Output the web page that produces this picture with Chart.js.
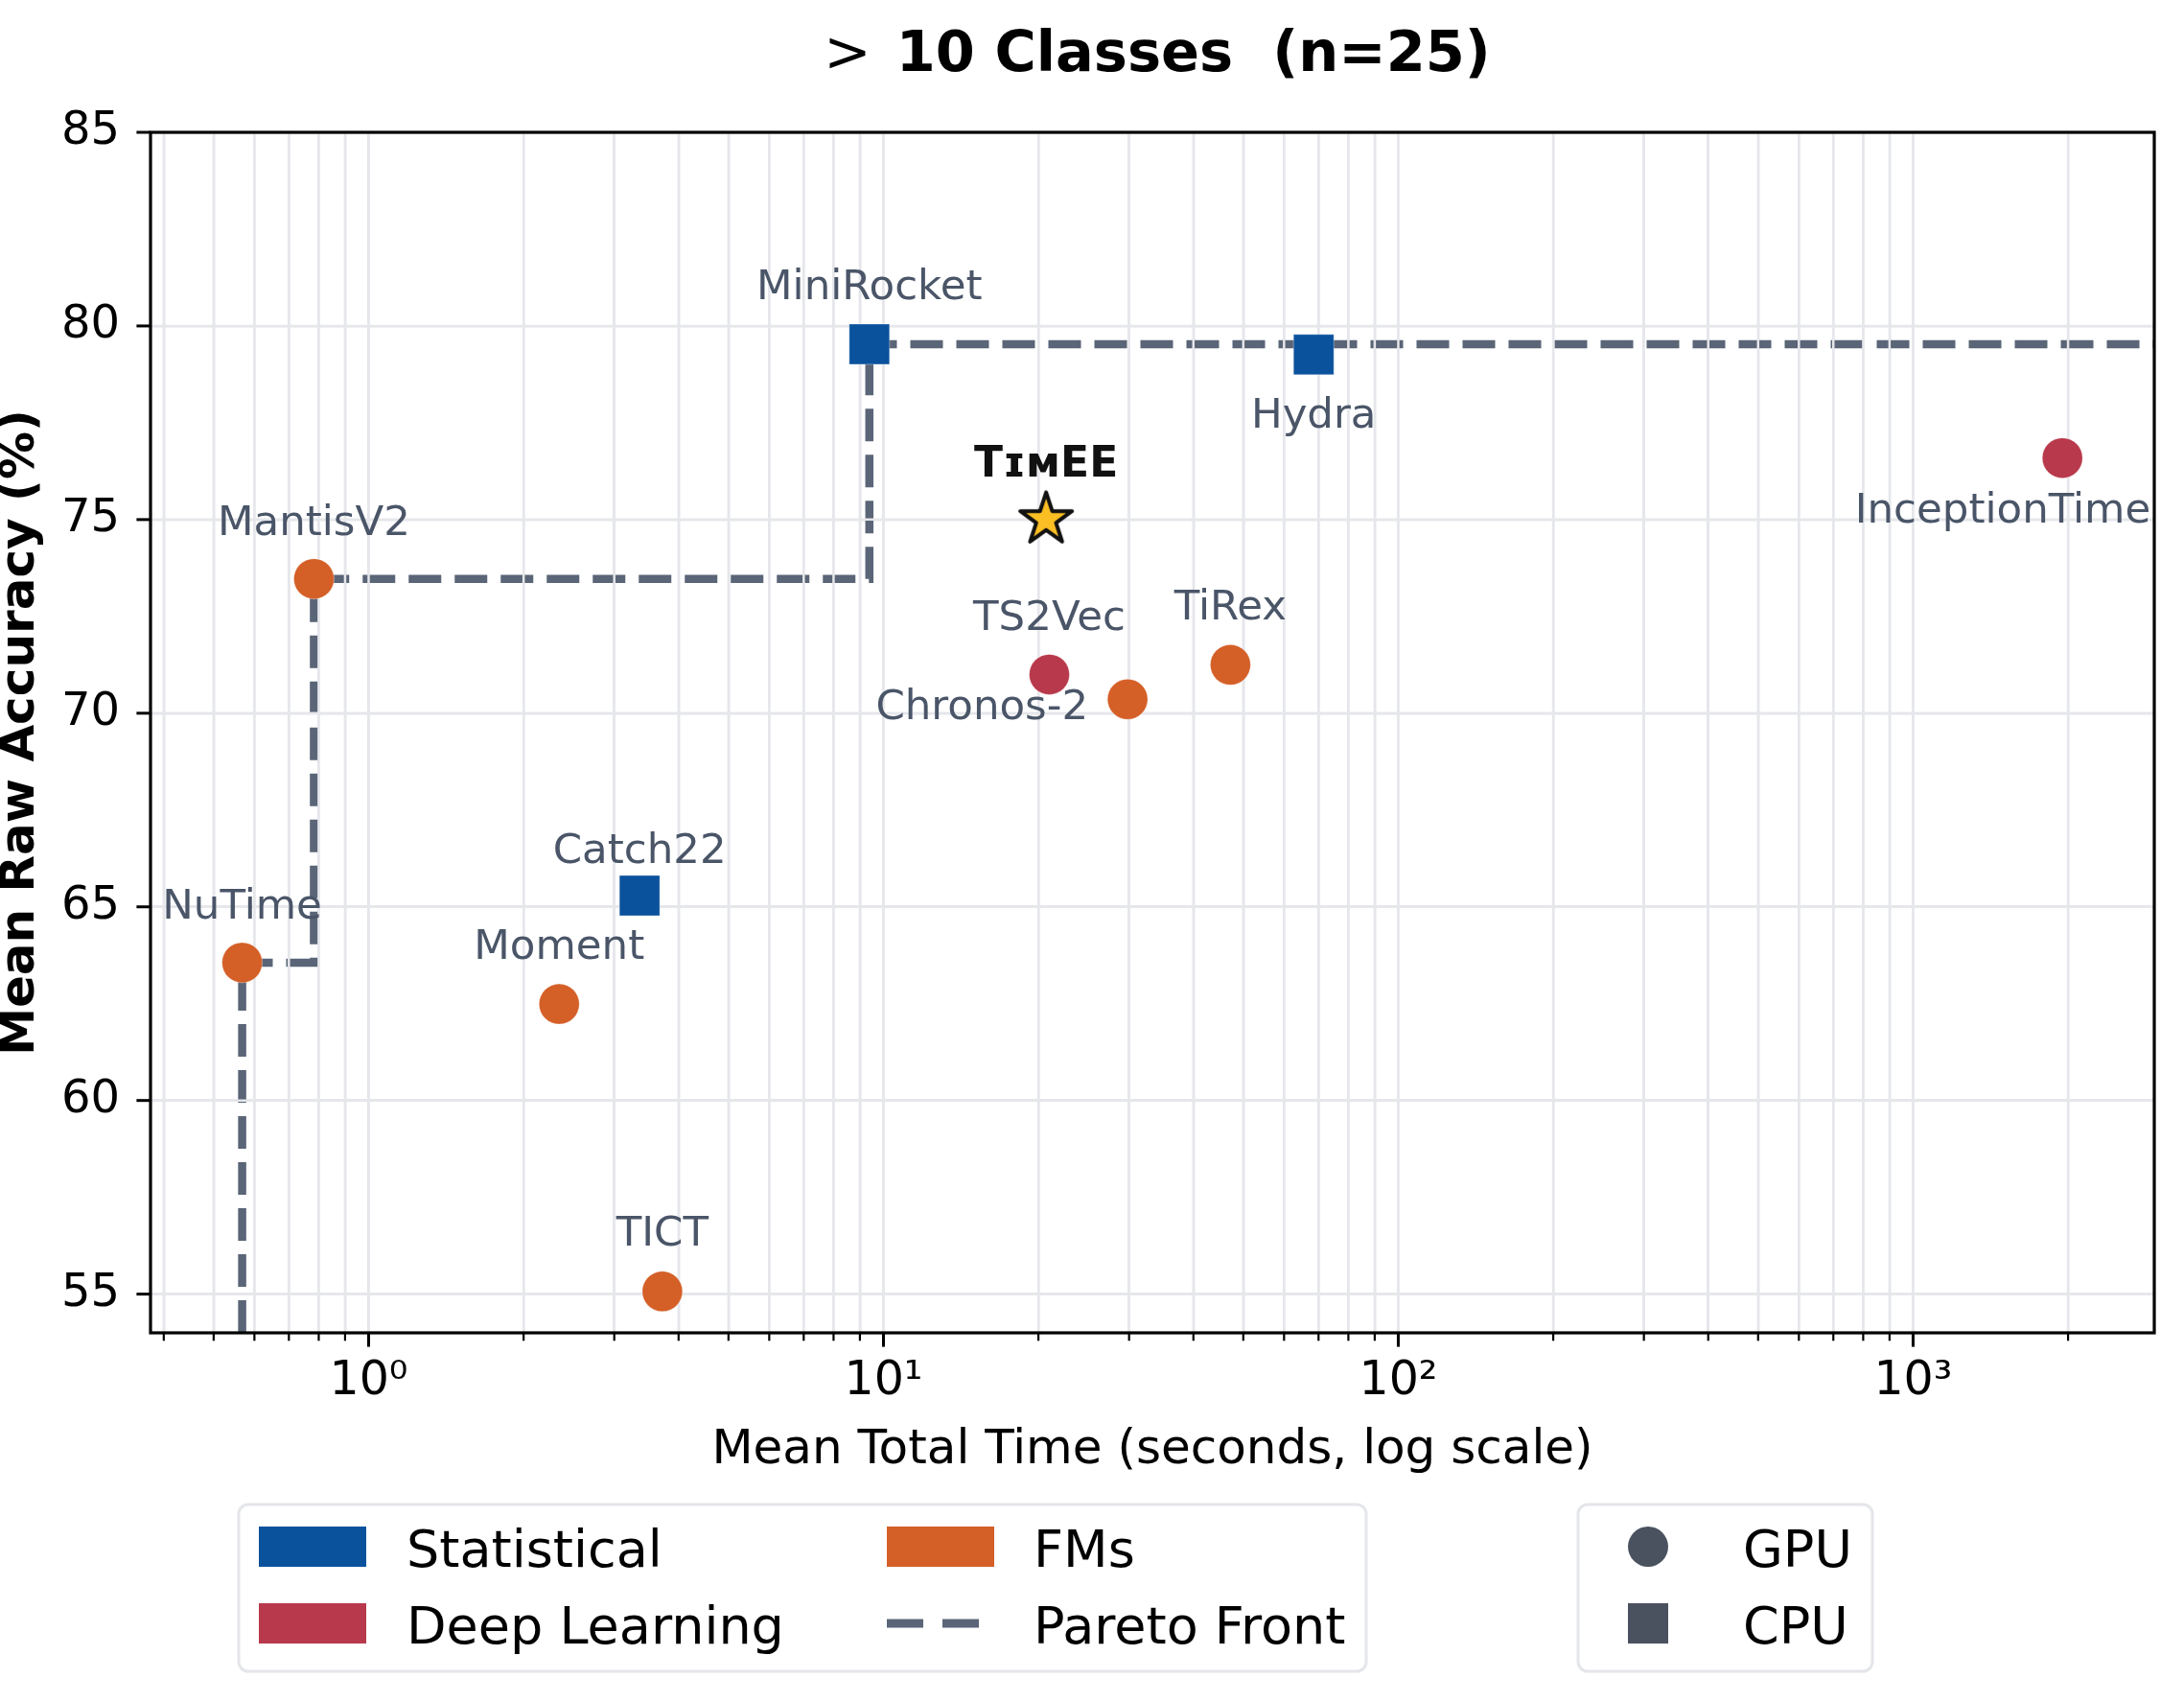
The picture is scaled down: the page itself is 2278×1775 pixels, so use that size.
<!DOCTYPE html>
<html>
<head>
<meta charset="utf-8">
<title>&gt; 10 Classes (n=25)</title>
<script src="https://cdn.jsdelivr.net/npm/chart.js@4.4.0/dist/chart.umd.min.js"></script>
<style>
  html, body { margin: 0; padding: 0; background: #fff; }
  canvas { display: block; }
</style>
</head>
<body>
<canvas id="chart" width="2278" height="1775"></canvas>
<script>
// data
const methods  = ['MiniRocket', 'Hydra', 'Catch22', 'InceptionTime', 'TS2Vec', 'MantisV2', 'NuTime', 'Moment', 'TICT', 'Chronos-2', 'TiRex'];
const families = ['Statistical', 'Statistical', 'Statistical', 'Deep Learning', 'Deep Learning', 'FMs', 'FMs', 'FMs', 'FMs', 'FMs', 'FMs'];
const devices  = ['CPU', 'CPU', 'CPU', 'GPU', 'GPU', 'GPU', 'GPU', 'GPU', 'GPU', 'GPU', 'GPU'];
const meanTime = [9.39, 68.5, 3.36, 1950, 21.0, 0.783, 0.568, 2.345, 3.72, 29.8, 47.2];
const meanAcc  = [79.53, 79.26, 65.29, 76.59, 71.0, 73.47, 63.56, 62.49, 55.07, 70.36, 71.25];

const oursName = 'T\u026A\u1D0DEE';
const oursTime = [20.7];
const oursAcc  = [75.0];

const familyNames = ['Statistical', 'Deep Learning', 'FMs'];
const deviceNames = ['GPU', 'CPU'];

const xMajorTicks = [1, 10, 100, 1000];
const xTickLabels = ['10\u2070', '10\u00B9', '10\u00B2', '10\u00B3'];
const yTicks = [55, 60, 65, 70, 75, 80, 85];
const xRange = [0.377, 2941];
const yRange = [54, 85];

// styling
const FONT = "'DejaVu Sans', sans-serif";
const familyColors = { 'Statistical': '#0b529d', 'Deep Learning': '#b8394b', 'FMs': '#d45f27' };
const paretoColor = '#5a6577';
const markerGray = '#4a5260';
const labelColor = '#4a5568';
const gridColor = '#e6e7eb';

// label offsets relative to the marker: [dx, baseline dy, align]
const labelOffsets = {
  'MiniRocket': [0, -47, 'center'],
  'Hydra': [0, 76, 'center'],
  'Catch22': [0, -34, 'center'],
  'InceptionTime': [92, 67, 'right'],
  'TS2Vec': [0, -46, 'center'],
  'MantisV2': [0, -46, 'center'],
  'NuTime': [0, -46, 'center'],
  'Moment': [0, -47, 'center'],
  'TICT': [0, -48, 'center'],
  'Chronos-2': [-41, 21, 'right'],
  'TiRex': [0, -47, 'center']
};

// minor ticks for the log axis
const xAllTicks = [];
[0.1, 1, 10, 100, 1000].forEach(d => {
  for (let k = 1; k <= 9; k++) {
    const v = +(d * k).toPrecision(3);
    if (v >= xRange[0] && v <= xRange[1]) xAllTicks.push(v);
  }
});

// pareto front: fastest-first, keep strictly better accuracy
const order = meanTime.map((t, i) => i).sort((a, b) => meanTime[a] - meanTime[b]);
const front = [];
let best = -Infinity;
order.forEach(i => { if (meanAcc[i] > best) { best = meanAcc[i]; front.push({ x: meanTime[i], y: meanAcc[i] }); } });
const paretoPts = [{ x: front[0].x, y: yRange[0] }];
front.forEach((p, k) => {
  if (k > 0) paretoPts.push({ x: p.x, y: front[k - 1].y });
  paretoPts.push({ x: p.x, y: p.y });
});
paretoPts.push({ x: xRange[1], y: front[front.length - 1].y });

function makeStar() {
  const c = document.createElement('canvas');
  c.width = 66; c.height = 66;
  const g = c.getContext('2d');
  const R = 28.4, r = R * 0.382, cx = 33, cy = 33;
  g.beginPath();
  for (let k = 0; k < 10; k++) {
    const a = -Math.PI / 2 + k * Math.PI / 5;
    const rr = k % 2 === 0 ? R : r;
    const px = cx + rr * Math.cos(a), py = cy + rr * Math.sin(a);
    if (k === 0) g.moveTo(px, py); else g.lineTo(px, py);
  }
  g.closePath();
  g.fillStyle = '#fbbf24';
  g.fill();
  g.lineJoin = 'round';
  g.lineWidth = 4;
  g.strokeStyle = '#111';
  g.stroke();
  return c;
}

const scatterSets = familyNames.map(f => ({
  type: 'scatter',
  label: f,
  isMethod: true,
  order: 1,
  data: methods.map((m, i) => ({ x: meanTime[i], y: meanAcc[i], name: m, device: devices[i], fam: families[i] }))
    .filter(p => p.fam === f),
  backgroundColor: familyColors[f],
  borderColor: 'rgba(255,255,255,0.35)',
  borderWidth: 1,
  pointStyle: c => c.raw && c.raw.device === 'CPU' ? 'rect' : 'circle',
  pointRadius: c => c.raw && c.raw.device === 'CPU' ? 29.7 : 21
}));

// grid is drawn over the pareto line but under the markers
function drawGrid(chart) {
  const c = chart.ctx, a = chart.chartArea;
  const xs = chart.scales.x, ys = chart.scales.y;
  c.save();
  c.beginPath();
  c.rect(a.left, a.top, a.right - a.left, a.bottom - a.top);
  c.clip();
  c.strokeStyle = gridColor;
  c.lineWidth = 2.5;
  c.beginPath();
  xs.ticks.forEach(t => {
    const px = xs.getPixelForValue(t.value);
    c.moveTo(px, a.top);
    c.lineTo(px, a.bottom);
  });
  ys.ticks.forEach(t => {
    const py = ys.getPixelForValue(t.value);
    c.moveTo(a.left, py);
    c.lineTo(a.right, py);
  });
  c.stroke();
  c.restore();
}

const decor = {
  id: 'decor',
  beforeDraw(chart) {
    const c = chart.ctx;
    c.save();
    c.fillStyle = '#fff';
    c.fillRect(0, 0, chart.width, chart.height);
    c.restore();
  },
  afterDatasetDraw(chart, args) {
    if (chart.data.datasets[args.index].isPareto) drawGrid(chart);
  },
  afterDatasetsDraw(chart) {
    const c = chart.ctx;
    c.save();
    chart.data.datasets.forEach((ds, di) => {
      const meta = chart.getDatasetMeta(di);
      if (ds.isMethod) {
        c.font = '43.5px ' + FONT;
        c.fillStyle = labelColor;
        c.textBaseline = 'alphabetic';
        meta.data.forEach((el, i) => {
          const p = ds.data[i];
          const off = labelOffsets[p.name];
          c.textAlign = off[2];
          c.fillText(p.name, el.x + off[0], el.y + off[1]);
        });
      }
      if (ds.isOurs) {
        c.font = 'bold 44px ' + FONT;
        c.fillStyle = '#111';
        c.textAlign = 'center';
        c.textBaseline = 'alphabetic';
        meta.data.forEach(el => c.fillText(oursName, el.x, el.y - 45));
      }
    });
    c.restore();
  },
  afterDraw(chart) {
    const c = chart.ctx;
    const a = chart.chartArea;
    const xs = chart.scales.x, ys = chart.scales.y;
    c.save();

    // spines
    c.strokeStyle = '#000';
    c.lineWidth = 3.2;
    c.strokeRect(a.left, a.top, a.right - a.left, a.bottom - a.top);

    // tick marks
    xs.ticks.forEach(t => {
      const major = xMajorTicks.includes(t.value);
      const px = xs.getPixelForValue(t.value);
      c.lineWidth = major ? 3 : 2.2;
      c.beginPath();
      c.moveTo(px, a.bottom);
      c.lineTo(px, a.bottom + (major ? 14.6 : 8.3));
      c.stroke();
    });
    c.lineWidth = 3;
    ys.ticks.forEach(t => {
      const py = ys.getPixelForValue(t.value);
      c.beginPath();
      c.moveTo(a.left, py);
      c.lineTo(a.left - 14.6, py);
      c.stroke();
    });

    // title: ">" in regular weight, the rest bold
    const part1 = '>', part2 = '  10 Classes  (n=25)';
    const tighten = 15;
    c.font = '59px ' + FONT;
    const w1 = c.measureText(part1).width;
    c.font = 'bold 59px ' + FONT;
    const w2 = c.measureText(part2).width;
    const x0 = 1207 - (w1 + w2 - tighten) / 2;
    c.fillStyle = '#000';
    c.textAlign = 'left';
    c.textBaseline = 'alphabetic';
    c.font = '59px ' + FONT;
    c.fillText(part1, x0, 74);
    c.font = 'bold 59px ' + FONT;
    c.fillText(part2, x0 + w1 - tighten, 74);

    // axis titles
    const cx = (a.left + a.right) / 2;
    c.font = '50px ' + FONT;
    c.textAlign = 'center';
    c.fillText('Mean Total Time (seconds, log scale)', cx, 1526);
    c.save();
    c.translate(22, (a.top + a.bottom) / 2);
    c.rotate(-Math.PI / 2);
    c.font = 'bold 50px ' + FONT;
    c.textBaseline = 'middle';
    c.fillText('Mean Raw Accuracy (%)', 0, 0);
    c.restore();

    // legends
    function frame(x, y, w, h) {
      c.beginPath();
      c.roundRect(x, y, w, h, 10);
      c.fillStyle = '#fff';
      c.fill();
      c.lineWidth = 3;
      c.strokeStyle = '#e4e6ea';
      c.stroke();
    }
    frame(249, 1569, 1176, 174);
    frame(1646, 1569, 307, 174);

    const rows = [1613, 1693];
    const cols = [[270, 424], [925, 1078]];
    const famSlots = [[0, 0], [0, 1], [1, 0]];
    c.font = '54px ' + FONT;
    c.textAlign = 'left';
    c.textBaseline = 'alphabetic';
    familyNames.forEach((f, i) => {
      const [col, row] = famSlots[i];
      c.fillStyle = familyColors[f];
      c.fillRect(cols[col][0], rows[row] - 21, 112, 42);
      c.fillStyle = '#000';
      c.fillText(f, cols[col][1], rows[row] + 21);
    });
    // pareto entry
    c.strokeStyle = paretoColor;
    c.lineWidth = 9;
    c.setLineDash([38, 20]);
    c.beginPath();
    c.moveTo(cols[1][0], rows[1]);
    c.lineTo(cols[1][0] + 112, rows[1]);
    c.stroke();
    c.setLineDash([]);
    c.fillStyle = '#000';
    c.fillText('Pareto Front', cols[1][1], rows[1] + 21);

    // device entries
    deviceNames.forEach((d, i) => {
      c.fillStyle = markerGray;
      if (d === 'GPU') {
        c.beginPath();
        c.arc(1719, rows[i], 21, 0, Math.PI * 2);
        c.fill();
      } else {
        c.fillRect(1698, rows[i] - 21, 42, 42);
      }
      c.fillStyle = '#000';
      c.fillText(d, 1818, rows[i] + 21);
    });

    c.restore();
  }
};

new Chart(document.getElementById('chart'), {
  type: 'scatter',
  data: {
    datasets: [
      {
        type: 'scatter',
        label: oursName,
        isOurs: true,
        order: 0,
        data: oursTime.map((t, i) => ({ x: t, y: oursAcc[i] })),
        pointStyle: makeStar(),
        pointRadius: 30
      },
      ...scatterSets,
      {
        type: 'line',
        label: 'Pareto Front',
        isPareto: true,
        order: 5,
        data: paretoPts,
        borderColor: paretoColor,
        borderWidth: 8.5,
        borderDash: [34, 14],
        borderCapStyle: 'butt',
        pointRadius: 0,
        fill: false,
        tension: 0
      }
    ]
  },
  options: {
    responsive: false,
    animation: false,
    events: [],
    layout: { padding: { top: 138, right: 28, left: 0, bottom: 0 } },
    plugins: {
      legend: { display: false },
      title: { display: false },
      tooltip: { enabled: false }
    },
    scales: {
      x: {
        type: 'logarithmic',
        min: xRange[0],
        max: xRange[1],
        afterBuildTicks: s => { s.ticks = xAllTicks.map(v => ({ value: v })); },
        afterFit: s => { s.height = 385; },
        grid: { color: gridColor, lineWidth: 2.5, drawTicks: false },
        border: { display: false },
        ticks: {
          autoSkip: false,
          maxRotation: 0,
          padding: 22,
          color: '#000',
          font: { family: FONT, size: 49 },
          callback: v => {
            const k = xMajorTicks.indexOf(v);
            return k >= 0 ? xTickLabels[k] : '';
          }
        }
      },
      y: {
        min: yRange[0],
        max: yRange[1],
        afterBuildTicks: s => { s.ticks = yTicks.map(v => ({ value: v })); },
        afterFit: s => { s.width = 157; },
        grid: { color: gridColor, lineWidth: 2.5, drawTicks: false },
        border: { display: false },
        ticks: {
          padding: 32,
          color: '#000',
          font: { family: FONT, size: 48 },
          callback: v => String(v)
        }
      }
    }
  },
  plugins: [decor]
});
</script>
</body>
</html>
